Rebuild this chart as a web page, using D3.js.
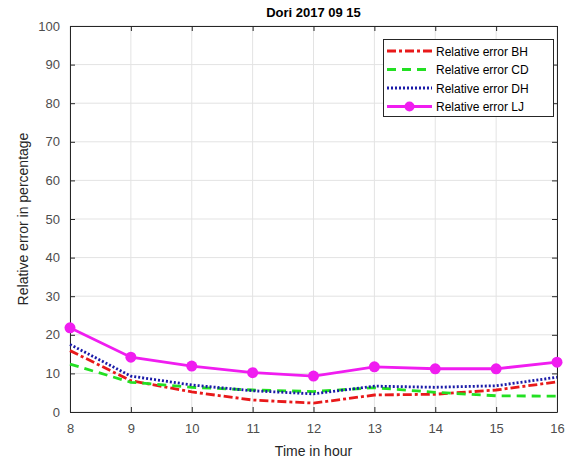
<!DOCTYPE html>
<html><head><meta charset="utf-8">
<script src="https://cdn.jsdelivr.net/npm/d3@7"></script>
<style>body{margin:0;background:#fff}svg{display:block}</style>
</head><body>
<script>
const hours = [8, 9, 10, 11, 12, 13, 14, 15, 16];
const errBH = [15.9, 8.1, 5.2, 3.1, 2.3, 4.4, 4.6, 5.7, 7.8];
const errCD = [12.4, 7.7, 6.4, 5.7, 5.3, 6.3, 5.1, 4.2, 4.1];
const errDH = [17.5, 9.3, 7.0, 5.5, 4.7, 6.7, 6.4, 6.8, 9.0];
const errLJ = [21.8, 14.2, 11.9, 10.2, 9.3, 11.7, 11.2, 11.2, 12.9];
const yTicks = [0, 10, 20, 30, 40, 50, 60, 70, 80, 90, 100];
const seriesNames = ["Relative error BH", "Relative error CD", "Relative error DH", "Relative error LJ"];

const W = 579, H = 463;
const m = {left: 70, right: 22, top: 26, bottom: 51};
const svg = d3.select("body").append("svg").attr("width", W).attr("height", H);
const x = d3.scaleLinear().domain([8, 16]).range([m.left, W - m.right]);
const y = d3.scaleLinear().domain([0, 100]).range([H - m.bottom, m.top]);
const font = "Liberation Sans, Arial, sans-serif";

// grid
svg.append("g").selectAll("line").data(hours).join("line")
  .attr("x1", d => x(d)).attr("x2", d => x(d)).attr("y1", y(0)).attr("y2", y(100))
  .attr("stroke", "#e3e3e3").attr("stroke-width", 1);
svg.append("g").selectAll("line").data(yTicks).join("line")
  .attr("x1", x(8)).attr("x2", x(16)).attr("y1", d => y(d)).attr("y2", d => y(d))
  .attr("stroke", "#e3e3e3").attr("stroke-width", 1);

// axes
const ax = svg.append("g").attr("transform", `translate(0,${y(0)})`)
  .call(d3.axisBottom(x).tickValues(hours).tickFormat(d3.format("d")).tickSizeInner(-5).tickSizeOuter(0).tickPadding(12));
const ay = svg.append("g").attr("transform", `translate(${x(8)},0)`)
  .call(d3.axisLeft(y).tickValues(yTicks).tickSizeInner(-5).tickSizeOuter(0).tickPadding(10));
const axT = svg.append("g").attr("transform", `translate(0,${y(100)})`)
  .call(d3.axisTop(x).tickValues(hours).tickFormat("").tickSizeInner(-5).tickSizeOuter(0));
const ayR = svg.append("g").attr("transform", `translate(${x(16)},0)`)
  .call(d3.axisRight(y).tickValues(yTicks).tickFormat("").tickSizeInner(-5).tickSizeOuter(0));
[ax, ay, axT, ayR].forEach(g => {
  g.selectAll("path,line").attr("stroke", "#262626");
  g.selectAll("text").attr("fill", "#4d4d4d").style("font-family", font).style("font-size", "13px");
});

// lines
const data = [
  {name: seriesNames[0], vals: errBH, color: "#e8191a", dash: "9,3,3,3", w: 2.8},
  {name: seriesNames[1], vals: errCD, color: "#22e022", dash: "9,6", w: 2.8},
  {name: seriesNames[2], vals: errDH, color: "#1a1aa8", dash: "2,2", w: 2.8},
  {name: seriesNames[3], vals: errLJ, color: "#f01df0", dash: null, w: 2.8, marker: true}
];
const line = d3.line().x((d, i) => x(hours[i])).y(d => y(d));
data.forEach(s => {
  svg.append("path").attr("d", line(s.vals)).attr("fill", "none")
    .attr("stroke", s.color).attr("stroke-width", s.w)
    .attr("stroke-dasharray", s.dash);
  if (s.marker) {
    svg.append("g").selectAll("circle").data(s.vals).join("circle")
      .attr("cx", (d, i) => x(hours[i])).attr("cy", d => y(d)).attr("r", 5.5)
      .attr("fill", s.color);
  }
});

// legend
const lg = svg.append("g");
lg.append("rect").attr("x", 383.5).attr("y", 39.5).attr("width", 170).attr("height", 77)
  .attr("fill", "#fff").attr("stroke", "#262626").attr("stroke-width", 1);
data.forEach((s, i) => {
  const yy = 51 + i * 18.5;
  lg.append("line").attr("x1", 387).attr("x2", 432).attr("y1", yy).attr("y2", yy)
    .attr("stroke", s.color).attr("stroke-width", s.w).attr("stroke-dasharray", s.dash);
  if (s.marker) lg.append("circle").attr("cx", 409.5).attr("cy", yy).attr("r", 5).attr("fill", s.color);
  lg.append("text").attr("x", 436).attr("y", yy + 4.5).text(s.name)
    .style("font-family", font).style("font-size", "12px").attr("fill", "#000");
});

// title & labels
svg.append("text").attr("x", (x(8) + x(16)) / 2).attr("y", 17).attr("text-anchor", "middle")
  .style("font-family", font).style("font-size", "13px").style("font-weight", "bold").attr("fill", "#000")
  .text("Dori 2017 09 15");
svg.append("text").attr("x", (x(8) + x(16)) / 2).attr("y", 456).attr("text-anchor", "middle")
  .style("font-family", font).style("font-size", "14px").attr("fill", "#262626").text("Time in hour");
svg.append("text").attr("transform", `translate(28,${(y(0) + y(100)) / 2}) rotate(-90)`).attr("text-anchor", "middle")
  .style("font-family", font).style("font-size", "14px").attr("fill", "#262626").text("Relative error in percentage");
</script>
</body></html>
